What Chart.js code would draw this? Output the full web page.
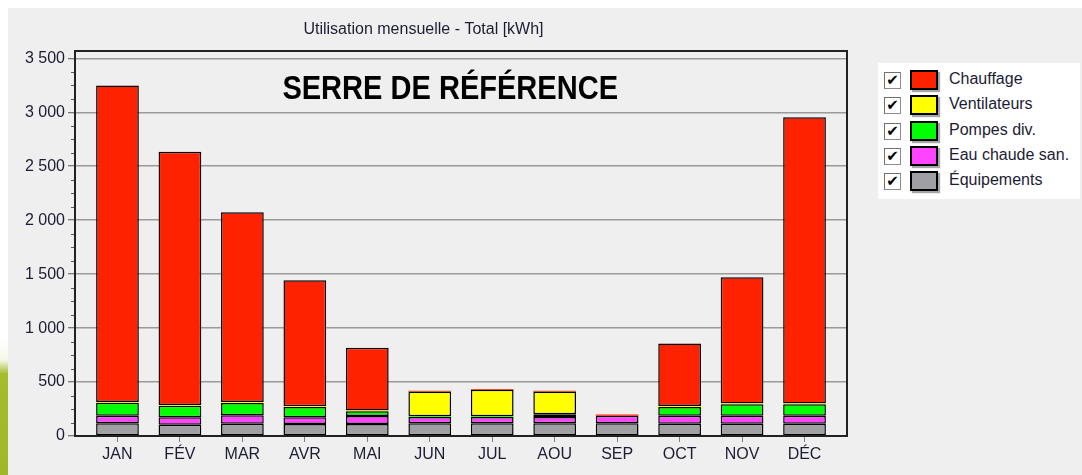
<!DOCTYPE html>
<html lang="fr">
<head>
<meta charset="utf-8">
<script src="https://cdn.jsdelivr.net/npm/chart.js@4"></script>
<style>
  html, body { margin: 0; padding: 0; width: 1082px; height: 475px; overflow: hidden; background: #ffffff; font-family: "Liberation Sans", Arial, sans-serif; }
  #panel { position: absolute; left: 8px; top: 8px; width: 1074px; height: 467px; background: #efefef; }
  #strip { position: absolute; left: 0; top: 340px; width: 8px; height: 135px;
           background: linear-gradient(to bottom, #ffffff 0px, #f4f8e6 20px, #a6bb2e 34px, #9fb82a 135px); }
  #wrap { position: absolute; left: 0; top: 0; width: 866px; height: 475px; }
  #legend { position: absolute; left: 878px; top: 63px; width: 202px; height: 136px; background: #ffffff; box-sizing: border-box; padding-top: 5px; }
  .row { position: relative; height: 25.3px; }
  .cb { position: absolute; left: 6px; top: 4px; width: 15px; height: 15px; border: 1px solid #8c8c8c; border-left-color: #707070; border-top-color: #707070; background: #fff; font: bold 15px "DejaVu Sans", sans-serif; line-height: 15px; text-align: center; color: #000; }
  .sw { position: absolute; left: 32px; top: 2px; width: 24px; height: 16px; border: 2px solid #000; box-shadow: 2px 2px 1px rgba(0,0,0,0.35); }
  .lt { position: absolute; left: 71px; top: 1px; font-size: 16px; line-height: 20px; color: #1c1c34; white-space: nowrap; }
</style>
</head>
<body>
<div id="panel"></div>
<div id="strip"></div>
<div id="wrap"><canvas id="c" width="866" height="475"></canvas></div>
<div id="legend"></div>
<script>
// ---- data ----
const months = ['JAN','FÉV','MAR','AVR','MAI','JUN','JUL','AOU','SEP','OCT','NOV','DÉC'];
const chauffage    = [2933, 2346, 1759, 1168, 580,   7,   7,   7,  12, 580, 1169, 2651];
const ventilateurs = [   8,    8,    8,    8,   8, 229, 245, 211,   0,   8,    8,    8];
const pompes       = [ 120,  107,  114,   95,  44,   7,   7,  25,   0,  81,  106,  106];
const eauChaude    = [  70,   68,   78,   62,  74,  58,  58,  58,  70,  74,   74,   74];
const equipements  = [ 118,  105,  114,  111, 111, 118, 118, 118, 118, 114,  114,  114];
const yTicks = [0, 500, 1000, 1500, 2000, 2500, 3000, 3500];
const chartTitle = 'Utilisation mensuelle - Total [kWh]';
const bigTitle = 'SERRE DE RÉFÉRENCE';

const FONT = '"Liberation Sans", Arial, sans-serif';

function pts(arr) { return arr.map((v, i) => ({ x: i, y: v })); }
function bw(ctx) { const v = ctx.raw ? ctx.raw.y : 0; return v < 15 ? 0 : 1.5; }

function ds(label, arr, color) {
  return {
    label, data: pts(arr), backgroundColor: color, borderColor: '#000000',
    borderWidth: bw, borderSkipped: false, inflateAmount: 0,
    categoryPercentage: 1, barPercentage: 0.684
  };
}

const datasets = [
  ds('Équipements', equipements, '#a0a0a4'),
  ds('Eau chaude san.', eauChaude, '#ff44ff'),
  ds('Pompes div.', pompes, '#00ff00'),
  ds('Ventilateurs', ventilateurs, '#ffff00'),
  ds('Chauffage', chauffage, '#ff2200')
];

function fmt(v) {
  if (v >= 1000) { const t = Math.floor(v / 1000); const r = String(v % 1000).padStart(3, '0'); return t + ' ' + r; }
  return String(v);
}

const decor = {
  id: 'decor',
  beforeDatasetsDraw(chart) {
    const { ctx, chartArea } = chart;
    ctx.save();
    ctx.font = 'bold 33px ' + FONT;
    ctx.fillStyle = '#000';
    ctx.textAlign = 'center';
    ctx.textBaseline = 'alphabetic';
    const cx = chartArea.left + (chartArea.right - chartArea.left) * 0.486;
    ctx.translate(cx, 99);
    ctx.scale(0.88, 1);
    ctx.fillText(bigTitle, 0, 0);
    ctx.restore();
  },
  afterDraw(chart) {
    const { ctx, chartArea } = chart;
    const y = chart.scales.y;
    ctx.save();
    ctx.strokeStyle = '#555';
    ctx.lineWidth = 1;
    for (let v = 125; v < 3560; v += 125) {
      if (v % 500 === 0) continue;
      const py = Math.round(y.getPixelForValue(v)) + 0.5;
      ctx.beginPath(); ctx.moveTo(chartArea.left - 4, py); ctx.lineTo(chartArea.left, py); ctx.stroke();
    }
    ctx.strokeStyle = '#222';
    ctx.lineWidth = 2;
    ctx.strokeRect(chartArea.left, chartArea.top, chartArea.right - chartArea.left, chartArea.bottom - chartArea.top);
    ctx.restore();
  }
};

const chart = new Chart(document.getElementById('c'), {
  type: 'bar',
  data: { datasets },
  options: {
    responsive: false,
    animation: false,
    layout: { padding: { left: 0, right: 19, top: 0, bottom: 0 } },
    plugins: {
      legend: { display: false },
      tooltip: { enabled: false },
      title: { display: true, text: chartTitle, color: '#1c1c34', font: { family: FONT, size: 16, weight: 'normal' }, padding: { top: 20.4, bottom: 11.4 } }
    },
    scales: {
      x: {
        type: 'linear', stacked: true, min: -0.68, max: 11.68, offset: false,
        afterBuildTicks: s => { s.ticks = months.map((m, i) => ({ value: i })); },
        afterFit: s => { s.height = 39; },
        ticks: { callback: v => months[v], color: '#1c1c34', font: { family: FONT, size: 16 }, padding: 3, maxRotation: 0, autoSkip: false },
        grid: { offset: false, drawOnChartArea: false, tickLength: 6, tickColor: '#808080', tickWidth: 1 },
        border: { display: true, color: '#222', width: 2 }
      },
      y: {
        stacked: true, min: 0, max: 3568,
        afterBuildTicks: s => { s.ticks = yTicks.map(v => ({ value: v })); },
        afterFit: s => { s.width = 75; },
        ticks: { callback: v => fmt(v), color: '#1c1c34', font: { family: FONT, size: 16 }, padding: 3 },
        grid: { color: '#9a9a9a', lineWidth: 1.5, tickLength: 7, tickColor: '#555', tickWidth: 1 },
        border: { display: true, color: '#222', width: 2 }
      }
    }
  },
  plugins: [decor]
});

// HTML legend from the chart's datasets (top-most series first)
const leg = document.getElementById('legend');
chart.data.datasets.slice().reverse().forEach(d => {
  const row = document.createElement('div'); row.className = 'row';
  const cb = document.createElement('div'); cb.className = 'cb'; cb.textContent = '✔';
  const sw = document.createElement('div'); sw.className = 'sw'; sw.style.background = d.backgroundColor;
  const lt = document.createElement('div'); lt.className = 'lt'; lt.textContent = d.label;
  row.append(cb, sw, lt); leg.appendChild(row);
});
</script>
</body>
</html>
